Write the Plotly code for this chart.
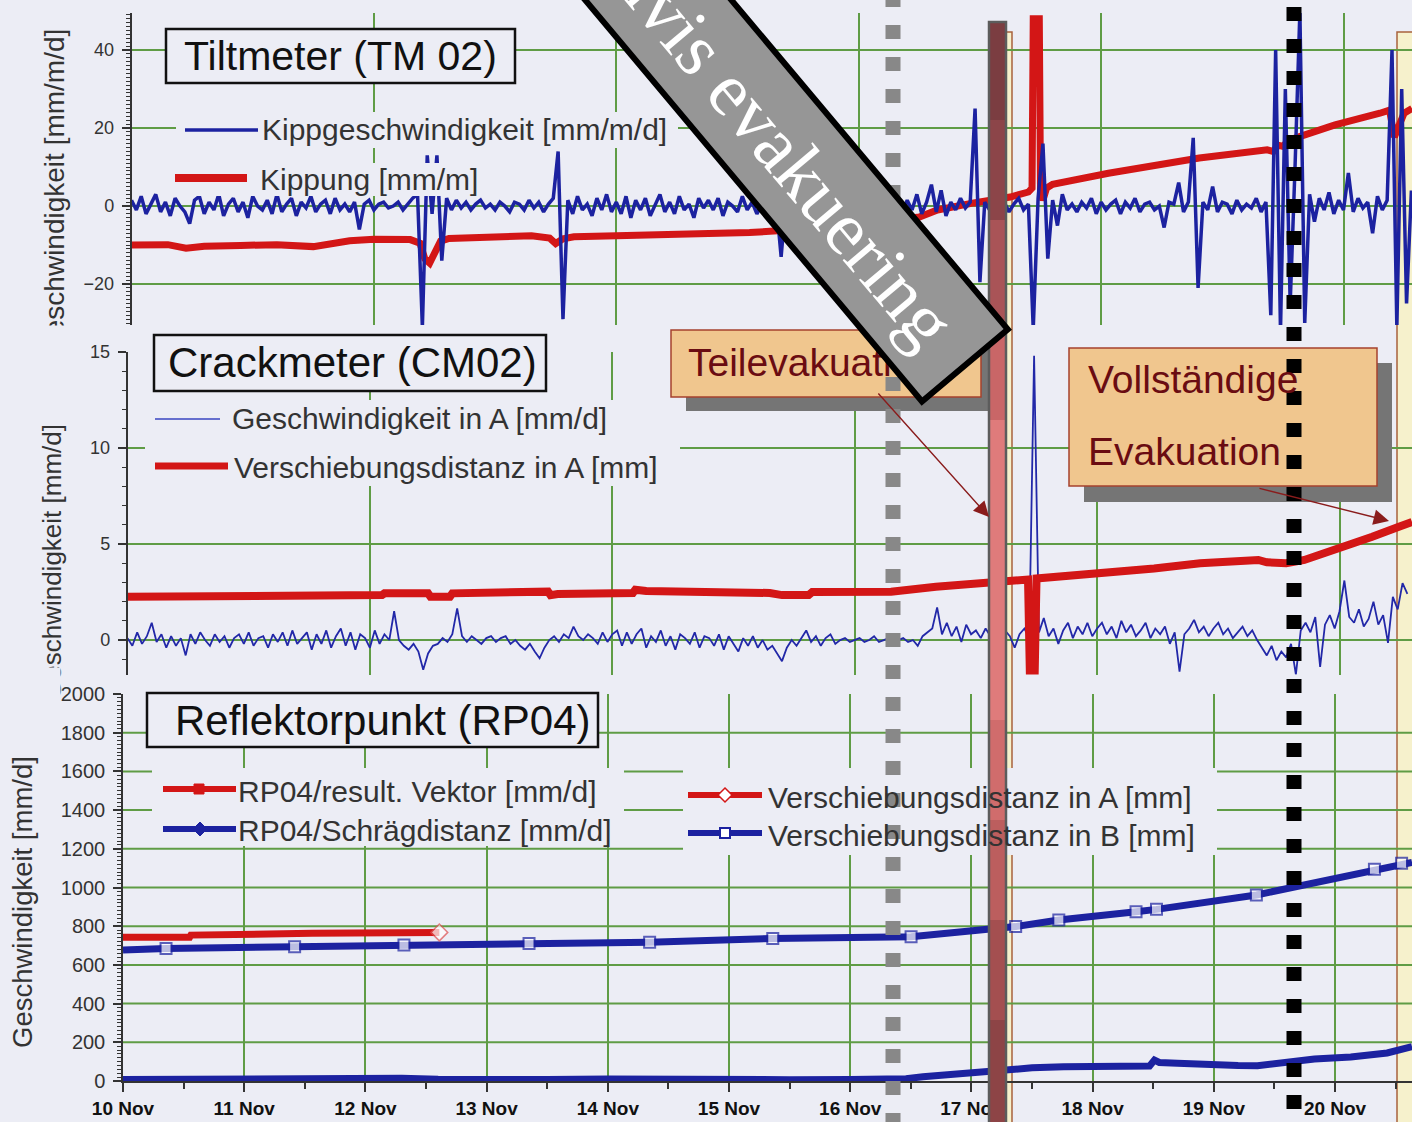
import plotly.graph_objects as go

# ---------------------------------------------------------------------------
# Monitoring data, 10-20 Nov (x values are days of November)
# ---------------------------------------------------------------------------

# Tiltmeter TM 02 - tilt rate [mm/m/d], one sample every 0.04 d from 10 Nov 00:00
tilt_rate_start = 10.0
tilt_rate_step = 0.04
tilt_rate = [
    1.5, -1.0, 2.5, -2.0, 0.5, 3.0, -1.5, 1.0, -2.5, 2.0, 0.0, -1.5, -4.5, 1.5, 2.5, -2.0, 1.0, -1.0, 3.0, -2.5,
    0.5, 2.0, -1.5, 1.0, -3.0, 2.5, 0.0, -1.0, 1.5, -2.0, 3.0, -1.5, 0.5, 2.0, -2.5, 1.0, -0.5, 2.5, -1.5, 0.5,
    1.5, -2.0, 2.0, -1.0, 0.5, -1.5, 1.0, -6.0, 0.5, 1.5, -1.0, 0.5, 1.0, -0.5, 0.0, 1.0, -1.0, 0.5, 2.0, 3.0,
    -31.0, 13.0, -2.0, 13.0, -14.0, 2.0, -1.0, 1.5, -0.5, 1.0, -1.0, 0.5, 1.5, -0.5, 0.5, -1.0, 1.0, 0.0, -1.5, 1.0,
    0.5, -1.0, 1.5, -0.5, 1.0, -1.5, 0.5, 2.0, 14.0, -29.0, 1.5, -2.0, 2.5, -1.0, 0.5, -2.5, 2.0, -1.0, 3.0, -1.5,
    1.0, -2.0, 2.5, -3.0, 1.5, -1.0, 2.0, -2.5, 0.5, 3.0, -1.5, 1.0, -2.0, 2.5, -1.0, 0.5, -3.0, 2.0, -0.5, 1.5,
    -1.0, 2.0, -2.5, 1.0, 0.0, -1.5, 2.5, -1.0, 1.0, -2.0, 0.5, 2.0, -1.5, 0.5, -13.0, 1.5, -1.0, 2.0, -2.0, 1.0,
    -0.5, 1.5, -2.0, 2.0, -1.0, 0.5, -1.5, 2.5, -0.5, 1.0, -2.0, 1.5, 0.0, -1.0, 2.0, -1.5, 1.0, -0.5, 2.5, -2.0,
    1.5, -1.0, 3.0, -2.0, 1.0, 5.5, -1.5, 4.0, -2.5, 1.0, -1.0, 2.0, -0.5, 1.0, 25.0, -19.5, 1.0, -1.0, 0.5, -0.5,
    1.0, -1.5, 0.5, 2.0, -1.0, 0.5, -31.5, 2.0, 16.0, -13.5, 1.5, -5.0, 3.0, -1.0, 0.5, -1.5, 1.0, -0.5, 2.0, -2.0,
    1.0, -1.0, 0.5, 1.5, -2.0, 1.0, -0.5, 2.0, -1.5, 0.5, 1.0, -1.0, 0.0, -5.5, 1.0, 0.5, 6.0, -1.5, 1.0, 17.5,
    -21.0, 1.0, -1.0, 5.0, -1.5, 1.0, 0.5, -2.0, 1.5, -1.0, 0.5, -0.5, 2.0, -1.5, 1.0, -28.0, 40.0, -32.0, 30.0, -25.0,
    10.0, 50.0, -30.0, 3.0, -4.0, 2.0, -1.0, 3.5, -2.0, 1.5, -1.0, 8.5, -1.5, 2.0, -0.5, 1.0, -7.0, 2.5, -1.0, 1.5,
    40.0, -31.0, 30.0, -25.0, 4.0,
]

# Tiltmeter TM 02 - tilt [mm/m]
tilt_days = [10.00, 10.30, 10.45, 10.60, 10.90, 11.20, 11.50, 11.80, 12.00, 12.30,
             12.38, 12.42, 12.46, 12.50, 12.55, 12.62, 13.00, 13.30, 13.45, 13.50,
             13.56, 13.65, 14.00, 14.50, 14.70, 15.10, 15.40, 15.80, 16.20, 16.50,
             16.65, 16.95, 17.25, 17.40, 17.43, 17.44, 17.49, 17.50, 17.52, 17.55,
             17.60, 18.06, 18.43, 18.81, 19.37, 19.42, 19.46, 19.50, 19.55, 19.93,
             20.30, 20.38, 20.40, 20.42, 20.45, 20.50, 20.565]
tilt_values = [-10.0, -9.9, -10.8, -10.3, -10.1, -9.9, -10.4, -8.9, -8.5, -8.6,
               -9.5, -13.5, -14.6, -12.0, -9.0, -8.3, -7.9, -7.6, -8.2, -9.6,
               -8.4, -7.9, -7.6, -7.3, -7.1, -6.8, -6.2, -5.3, -4.0, -2.8,
               -1.0, 0.8, 2.3, 3.6, 4.6, 48.0, 48.0, 4.0, 1.5, 4.6,
               5.6, 8.4, 10.5, 12.3, 14.4, 14.0, 15.6, 15.3, 16.9, 20.8,
               23.8, 24.6, 21.0, 17.7, 20.0, 23.8, 25.0]

# Crackmeter CM02 - opening rate in A [mm/d], one sample every 0.04 d
crack_rate_start = 10.0
crack_rate_step = 0.04
crack_rate = [
    0.1, -0.3, 0.4, -0.2, 0.2, 0.9, -0.1, 0.3, -0.4, 0.2, -0.3, 0.1, -0.8, 0.3, -0.2, 0.4, 0.0, -0.3, 0.3, -0.1,
    0.2, -0.4, 0.1, 0.3, -0.2, 0.4, -0.3, 0.1, 0.2, -0.4, 0.3, -0.1, 0.4, -0.3, 0.5, -0.2, 0.1, 0.4, -0.5, 0.3,
    -0.2, 0.5, -0.4, 0.2, 0.6, -0.3, 0.4, -0.5, 0.3, 0.1, -0.4, 0.5, -0.2, 0.3, 0.0, 1.5, 0.0, -0.3, -0.5, -0.2,
    -0.6, -1.55, -0.7, -0.3, -0.2, 0.1, -0.1, 0.3, 1.65, 0.2, -0.1, 0.2, 0.0, -0.2, 0.1, 0.2, -0.1, 0.1, 0.2, -0.2,
    0.0, -0.3, -0.5, -0.2, -0.6, -0.95, -0.4, 0.0, 0.2, -0.1, 0.3, 0.1, 0.7, 0.2, 0.0, 0.3, 0.1, -0.2, 0.4, -0.1,
    0.3, 0.5, -0.3, 0.4, -0.2, 0.3, 0.6, -0.4, 0.2, -0.1, 0.5, -0.3, 0.2, -0.5, 0.3, 0.1, -0.2, 0.4, -0.4, 0.2,
    0.1, -0.3, 0.3, -0.5, 0.2, -0.2, -0.6, 0.1, -0.3, 0.2, -0.4, 0.0, -0.5, -0.3, -0.7, -1.1, -0.4, 0.0, -0.3, 0.1,
    0.5, -0.1, 0.2, -0.3, 0.1, 0.3, -0.2, 0.0, 0.1, -0.1, 0.0, 0.1, -0.1, 0.0, 0.2, -0.1, 0.0, 0.1, -0.2, 0.0,
    0.1, -0.1, 0.0, -0.3, 0.2, 0.4, 0.6, 1.7, 0.3, 0.9, 0.2, 0.7, -0.1, 0.8, 0.3, 0.5, 0.1, 0.6, 0.2, 0.4,
    0.3, 0.5, 0.2, -0.4, 0.3, 0.6, 0.1, 14.8, 0.4, 1.15, 0.2, 0.6, -0.2, 0.5, 0.9, 0.1, 0.7, 0.3, 0.9, 0.2,
    0.6, 0.9, 0.3, 0.7, 0.1, 1.0, 0.4, 0.8, 0.2, 0.5, 0.9, 0.1, 0.6, 0.3, 0.7, -0.2, 0.4, -1.65, 0.3, 0.6,
    1.05, 0.4, 0.7, 0.2, 0.6, 0.9, 0.3, 0.6, 0.1, 0.4, 0.7, 0.2, 0.5, 0.0, -0.4, -0.8, -0.3, -1.05, -0.6, -0.9,
    -0.2, -1.8, 0.5, 0.9, 0.4, 1.2, -1.4, 0.8, 1.3, 0.6, 1.5, 3.1, 1.2, 0.9, 1.6, 0.7, 1.1, 2.0, 0.8, 1.3,
    -0.15, 2.25, 1.6, 2.96, 2.4,
]

# Crackmeter CM02 - displacement in A [mm]
crack_days = [10.00, 11.78, 11.80, 12.10, 12.12, 12.48, 12.50, 12.66, 12.68, 12.92,
              12.94, 13.47, 13.49, 13.55, 14.17, 14.19, 14.28, 14.72, 15.30, 15.40,
              15.62, 15.65, 16.30, 16.67, 17.10, 17.27, 17.43, 17.445, 17.485, 17.50,
              18.02, 18.47, 18.85, 19.33, 19.40, 19.56, 19.71, 19.97, 20.27, 20.49,
              20.598]
crack_disp = [2.25, 2.25, 2.34, 2.34, 2.43, 2.43, 2.25, 2.25, 2.43, 2.43,
              2.52, 2.52, 2.34, 2.40, 2.45, 2.62, 2.55, 2.52, 2.45, 2.34,
              2.34, 2.50, 2.52, 2.78, 2.96, 3.04, 3.15, -1.7, -1.7, 3.21,
              3.47, 3.73, 4.00, 4.17, 4.05, 4.00, 4.17, 4.69, 5.38, 5.90,
              6.15]

# Reflector point RP04 - slope-distance rate [mm/d]
rp_slope_days = [10.00, 10.50, 11.00, 11.50, 12.00, 12.30, 12.60, 13.00, 13.50, 14.00,
                 14.50, 15.00, 15.50, 16.00, 16.40, 16.46, 16.60, 16.80, 17.02, 17.15,
                 17.30, 17.50, 17.76, 18.00, 18.36, 18.47, 18.51, 18.55, 18.70, 18.94,
                 19.20, 19.36, 19.54, 19.83, 20.13, 20.43, 20.635]
rp_slope_rate = [8, 10, 6, 10, 8, 14, 9, 12, 8, 10,
                 6, 9, 7, 8, 6, 12, 22, 33, 48, 55,
                 62, 68, 74, 75, 78, 78, 108, 96, 92, 83,
                 80, 79, 93, 114, 124, 145, 177]

# Reflector point RP04 - displacement in B [mm] (survey epochs)
rp_b_days = [10.00, 10.355, 11.416, 12.318, 13.350, 14.345, 15.361, 16.502,
             17.365, 17.721, 18.358, 18.527, 19.351, 20.325, 20.549, 20.635]
rp_b_disp = [677, 685, 694, 703, 711, 717, 737, 746,
             798, 832, 875, 887, 961, 1094, 1125, 1130]

# Reflector point RP04 - displacement in A [mm]
rp_a_days = [10.00, 10.55, 10.56, 11.55, 11.56, 12.61]
rp_a_disp = [743, 743, 754, 754, 763, 768]

day_ticks = [10, 11, 12, 13, 14, 15, 16, 17, 18, 19, 20]
day_labels = ["10 Nov", "11 Nov", "12 Nov", "13 Nov", "14 Nov", "15 Nov",
              "16 Nov", "17 Nov", "18 Nov", "19 Nov", "20 Nov"]
half_day_ticks = [10.5, 11.5, 12.5, 13.5, 14.5, 15.5, 16.5, 17.5, 18.5, 19.5, 20.5]

# ---------------------------------------------------------------------------
# Page geometry and styling
# ---------------------------------------------------------------------------
W, H = 1412, 1122
BG = "#ecedf5"
GRID = "#5f9c45"
AX = "#333333"
BLUE = "#1c22a0"
RED = "#d31616"
SANS = "Liberation Sans, Arial, sans-serif"
SERIF = "Liberation Serif, Times New Roman, serif"
TEXT = "#333333"


def px(x):
    return x / W


def py(y):
    return 1 - y / H


tilt_rate_days = [tilt_rate_start + tilt_rate_step * i for i in range(len(tilt_rate))]
crack_rate_days = [crack_rate_start + crack_rate_step * i for i in range(len(crack_rate))]

fig = go.Figure()

# Tiltmeter panel
fig.add_trace(go.Scatter(x=tilt_days, y=tilt_values, xaxis="x", yaxis="y", mode="lines",
                         line=dict(color=RED, width=7), name="Kippung [mm/m]"))
fig.add_trace(go.Scatter(x=tilt_rate_days, y=tilt_rate, xaxis="x", yaxis="y", mode="lines",
                         line=dict(color=BLUE, width=3.5), name="Kippgeschwindigkeit [mm/m/d]"))

# Crackmeter panel
fig.add_trace(go.Scatter(x=crack_rate_days, y=crack_rate, xaxis="x2", yaxis="y2", mode="lines",
                         line=dict(color="#2228a8", width=1.8), name="Geschwindigkeit in A [mm/d]"))
fig.add_trace(go.Scatter(x=crack_days, y=crack_disp, xaxis="x2", yaxis="y2", mode="lines",
                         line=dict(color=RED, width=8), name="Verschiebungsdistanz in A [mm]"))

# Reflector point panel
fig.add_trace(go.Scatter(x=rp_slope_days, y=rp_slope_rate, xaxis="x3", yaxis="y3", mode="lines",
                         line=dict(color=BLUE, width=7), name="RP04/Schrägdistanz [mm/d]"))
fig.add_trace(go.Scatter(x=rp_b_days, y=rp_b_disp, xaxis="x3", yaxis="y3", mode="lines+markers",
                         line=dict(color=BLUE, width=7),
                         marker=dict(symbol="square", size=[0] + [11] * (len(rp_b_days) - 2) + [0],
                                     color="#ffffff", line=dict(color=BLUE, width=2)),
                         name="Verschiebungsdistanz in B [mm]"))
fig.add_trace(go.Scatter(x=rp_a_days, y=rp_a_disp, xaxis="x3", yaxis="y3", mode="lines+markers",
                         line=dict(color=RED, width=7),
                         marker=dict(symbol="diamond", size=[0] * (len(rp_a_days) - 1) + [13],
                                     color="#ffffff", line=dict(color="#e05050", width=1.5)),
                         name="Verschiebungsdistanz in A [mm]"))

# ---------------------------------------------------------------------------
# Axes
# ---------------------------------------------------------------------------


def x_panel(left_px, right_day, dtick, anchor):
    return dict(domain=[px(left_px), 1], range=[10, right_day], anchor=anchor,
                tick0=10, dtick=dtick, showticklabels=False, ticks="",
                showgrid=True, gridcolor=GRID, gridwidth=2, showline=False, zeroline=False)


def y_panel(bottom_px, top_px, rng, dtick, minor_dtick, anchor, size):
    return dict(domain=[py(bottom_px), py(top_px)], range=rng, anchor=anchor,
                tick0=0, dtick=dtick, ticks="outside", ticklen=8, tickwidth=1.5, tickcolor=AX,
                showline=True, linecolor=AX, linewidth=1.5, zeroline=False,
                minor=dict(tick0=0, dtick=minor_dtick, ticks="outside", ticklen=4,
                           tickwidth=1, tickcolor=AX, showgrid=False),
                tickfont=dict(family=SANS, size=size, color=TEXT), ticklabelstandoff=4)


layout_axes = dict(
    xaxis=x_panel(131.5, 20.565, 2, "y"),
    xaxis2=x_panel(127.5, 20.598, 2, "y2"),
    xaxis3=dict(domain=[px(123), 1], range=[10, 20.635], anchor="y3",
                tickmode="array", tickvals=day_ticks, ticktext=day_labels,
                ticks="outside", ticklen=9, tickwidth=1.5, tickcolor=AX,
                minor=dict(tickmode="array", tickvals=half_day_ticks, ticks="outside",
                           ticklen=6, tickwidth=1.5, tickcolor=AX, showgrid=False),
                showgrid=True, gridcolor=GRID, gridwidth=2,
                showline=True, linecolor=AX, linewidth=1.5, zeroline=False,
                tickfont=dict(family=SANS, size=19, color="#111111", weight="bold")),
    yaxis=dict(y_panel(325, 13, [-30.5, 49.5], 20, 1, "x", 18),
               showgrid=True, gridcolor=GRID, gridwidth=2),
    yaxis2=dict(y_panel(674.6, 352, [-1.8, 15], 5, 1, "x2", 18), showgrid=False),
    yaxis3=dict(y_panel(1081, 694, [0, 2000], 200, 20, "x3", 20), showgrid=False),
)

# ---------------------------------------------------------------------------
# Shapes: bands, grids, legend panels, callouts, event markers
# ---------------------------------------------------------------------------
shapes = []


def rect(x0, y0, x1, y1, fill=None, line_color=None, line_width=0, layer="above"):
    shapes.append(dict(type="rect", xref="paper", yref="paper",
                       x0=px(x0), x1=px(x1), y0=py(y1), y1=py(y0),
                       fillcolor=fill or "rgba(0,0,0,0)",
                       line=dict(color=line_color or "rgba(0,0,0,0)", width=line_width),
                       layer=layer))


def seg(x0, y0, x1, y1, color, width, dash="solid", layer="above"):
    shapes.append(dict(type="line", xref="paper", yref="paper",
                       x0=px(x0), y0=py(y0), x1=px(x1), y1=py(y1),
                       line=dict(color=color, width=width, dash=dash), layer=layer))


def diamond(cx, cy, r, fill, line_color, line_width):
    path = (f"M {px(cx)},{py(cy - r)} L {px(cx + r)},{py(cy)} "
            f"L {px(cx)},{py(cy + r)} L {px(cx - r)},{py(cy)} Z")
    shapes.append(dict(type="path", xref="paper", yref="paper", path=path,
                       fillcolor=fill, line=dict(color=line_color, width=line_width), layer="above"))


# evacuation period bands
rect(998, 32, 1012, 1140, fill="#f6f1cc", line_color="#a8623c", line_width=1.5, layer="below")
rect(1397, 32, 1440, 1140, fill="#f6f1cc", line_color="#a8623c", line_width=1.5, layer="below")

# horizontal grid of the crackmeter and reflector panels
for v in [0, 5, 10]:
    shapes.append(dict(type="line", xref="x2 domain", yref="y2", x0=0, x1=1, y0=v, y1=v,
                       line=dict(color=GRID, width=2), layer="below"))
for v in [200, 400, 600, 800, 1000, 1200, 1400, 1600, 1800]:
    shapes.append(dict(type="line", xref="x3 domain", yref="y3", x0=0, x1=1, y0=v, y1=v,
                       line=dict(color=GRID, width=2), layer="below"))

# legend backgrounds
rect(176, 112, 678, 148, fill=BG)
rect(170, 163, 488, 196, fill=BG)
rect(145, 400, 680, 486, fill=BG)
rect(152, 768, 624, 846, fill=BG)
rect(683, 768, 1217, 855, fill=BG)

# panel title boxes
rect(166, 29, 515, 83, fill=BG, line_color="#111111", line_width=2.5)
rect(154, 335, 546, 391, fill=BG, line_color="#111111", line_width=2.5)
rect(147, 693, 598, 747, fill=BG, line_color="#111111", line_width=2.5)

# legend keys
seg(185, 130, 258, 130, BLUE, 3.5)
seg(175, 178, 247, 178, RED, 8)
seg(155, 419, 220, 419, "#3a44c0", 1.6)
seg(155, 466, 228, 466, RED, 7)
seg(163, 789, 236, 789, RED, 6)
rect(194, 784, 204, 794, fill=RED, line_color=RED, line_width=1)
seg(163, 829, 236, 829, BLUE, 6)
diamond(200, 829, 7, BLUE, BLUE, 1)
seg(688, 795, 762, 795, RED, 6)
diamond(725, 795, 7, "#ffffff", RED, 1.5)
seg(688, 833, 762, 833, BLUE, 6)
rect(720, 828, 730, 838, fill="#ffffff", line_color=BLUE, line_width=2)

# callout boxes with drop shadows
rect(686, 344, 996, 411, fill="#757575")
rect(671, 330, 981, 397, fill="#f0c68e", line_color="#a5412e", line_width=1.5)
rect(1084, 363, 1392, 502, fill="#757575")
rect(1069, 348, 1377, 486, fill="#f0c68e", line_color="#a5412e", line_width=1.5)

# partial evacuation marker (grey dotted)
seg(893, -7, 893, 1130, "#888888", 15, dash="14px,18px")

# event bar
bar_bands = [(22, 120, "#7b3d41"), (120, 220, "#8c4549"), (220, 320, "#a95457"),
             (320, 420, "#c96667"), (420, 720, "#df7b7b"), (720, 820, "#d06c6c"),
             (820, 920, "#bc5e5e"), (920, 1020, "#a44f50"), (1020, 1130, "#8d4446")]
for y0, y1, c in bar_bands:
    rect(989, y0, 1006, y1, fill=c)
rect(989, 22, 1006, 1130, line_color="#5c5c5c", line_width=2.5)

# full evacuation marker (black dotted)
seg(1294, 7, 1294, 1130, "#000000", 15, dash="14px,18px")

# ---------------------------------------------------------------------------
# Annotations: axis titles, legend texts, titles, callouts, banner
# ---------------------------------------------------------------------------
annotations = []


def note(text, x, y, size, color=TEXT, xanchor="left", family=SANS, **kw):
    annotations.append(dict(text=text, x=px(x), y=py(y), xref="paper", yref="paper",
                            xanchor=xanchor, yanchor="middle", showarrow=False,
                            font=dict(family=family, size=size, color=color), **kw))


# y-axis titles (the two upper ones are cropped at their lower end)
note("Geschwindigkeit [mm/m/d]", 55, 193, 28, xanchor="center", textangle=-90)
note("Geschwindigkeit [mm/d]", 52, 562, 26, xanchor="center", textangle=-90)
note("Geschwindigkeit [mm/d]", 22, 902, 27.5, xanchor="center", textangle=-90)
note(" ", 55, 346, 10, xanchor="center", width=50, height=40, bgcolor=BG, borderpad=0)
note(" ", 44, 690, 10, xanchor="center", width=32, height=44, bgcolor=BG, borderpad=0)

# legend texts
note("Kippgeschwindigkeit [mm/m/d]", 260, 130, 30)
note("Kippung [mm/m]", 258, 180, 30)
note("Geschwindigkeit in A [mm/d]", 230, 418, 30)
note("Verschiebungsdistanz in A [mm]", 232, 467, 30)
note("RP04/result. Vektor [mm/d]", 236, 791, 30)
note("RP04/Schrägdistanz [mm/d]", 236, 830, 30)
note("Verschiebungsdistanz in A [mm]", 766, 797, 30)
note("Verschiebungsdistanz in B [mm]", 766, 835, 30)

# panel titles
note("Tiltmeter (TM 02)", 182, 56, 41, color="#111111")
note("Crackmeter (CM02)", 166, 363, 42, color="#111111")
note("Reflektorpunkt (RP04)", 173, 720, 42, color="#111111")

# callouts
note("Teilevakuation", 686, 362, 39, color="#6a0c12")
note("Vollständige", 1086, 380, 39, color="#6a0c12")
note("Evakuation", 1086, 451, 39, color="#6a0c12")
for (hx, hy, tx, ty) in [(989, 517, 877, 392), (1389, 521, 1258, 488)]:
    annotations.append(dict(x=px(hx), y=py(hy), xref="paper", yref="paper",
                            ax=tx - hx, ay=ty - hy, text="", showarrow=True,
                            arrowhead=2, arrowsize=2.2, arrowwidth=1.4, arrowcolor="#8a1c1c"))

# diagonal banner
annotations.append(dict(text="Trinnvis evakuering", x=px(744), y=py(101.7),
                        xref="paper", yref="paper", xanchor="center", yanchor="middle",
                        showarrow=False, textangle=50, width=682, height=106,
                        bgcolor="#969696", bordercolor="#000000", borderwidth=6, borderpad=0,
                        align="center", valign="middle",
                        font=dict(family=SERIF, size=76, color="#ffffff")))

fig.update_layout(
    template="none",
    width=W, height=H, autosize=False,
    margin=dict(l=0, r=0, t=0, b=0, pad=0),
    paper_bgcolor=BG, plot_bgcolor="rgba(0,0,0,0)",
    showlegend=False,
    shapes=shapes,
    annotations=annotations,
    **layout_axes,
)

fig.write_html("out.html")
